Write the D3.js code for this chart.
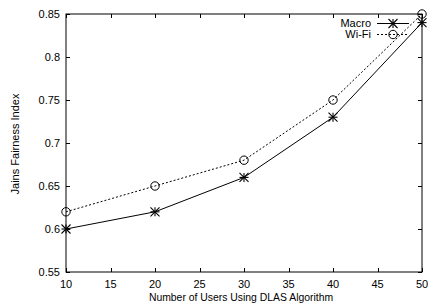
<!DOCTYPE html>
<html><head><meta charset="utf-8">
<script src="https://cdn.jsdelivr.net/npm/d3@7"></script>
<style>body{margin:0;background:#fff}svg{display:block}text{font-family:"Liberation Sans",Arial,sans-serif;fill:#000}</style>
</head><body><svg id="c" width="429" height="307"></svg>
<script>
const users = [10, 20, 30, 40, 50];
const macro = [0.60, 0.62, 0.66, 0.73, 0.84];
const wifi = [0.62, 0.65, 0.68, 0.75, 0.85];
const xTicks = [10, 15, 20, 25, 30, 35, 40, 45, 50];
const yTicks = [0.55, 0.6, 0.65, 0.7, 0.75, 0.8, 0.85];
const yTickLabels = ["0.55", "0.6", "0.65", "0.7", "0.75", "0.8", "0.85"];

const svg = d3.select("#c");
const L = 66, R = 422, T = 14, B = 272;
const x = d3.scaleLinear().domain([10, 50]).range([L, R]);
const y = d3.scaleLinear().domain([0.55, 0.85]).range([B, T]);
const fs = 11;

svg.append("rect").attr("x", L).attr("y", T).attr("width", R - L).attr("height", B - T)
  .attr("fill", "none").attr("stroke", "#000").attr("stroke-width", 1);

const tl = 4;
const g = svg.append("g").attr("stroke", "#000").attr("stroke-width", 1);
xTicks.forEach(t => {
  const px = Math.round(x(t)) + 0.5;
  g.append("line").attr("x1", px).attr("x2", px).attr("y1", B).attr("y2", B - tl);
  g.append("line").attr("x1", px).attr("x2", px).attr("y1", T).attr("y2", T + tl);
});
yTicks.forEach(t => {
  const py = Math.round(y(t)) + 0.5;
  g.append("line").attr("x1", L).attr("x2", L + tl).attr("y1", py).attr("y2", py);
  g.append("line").attr("x1", R).attr("x2", R - tl).attr("y1", py).attr("y2", py);
});
xTicks.forEach(t => {
  svg.append("text").attr("x", x(t)).attr("y", B + 16).attr("text-anchor", "middle")
    .attr("font-size", fs).text(t);
});
yTicks.forEach((t, i) => {
  svg.append("text").attr("x", L - 6).attr("y", y(t) + 4).attr("text-anchor", "end")
    .attr("font-size", fs).text(yTickLabels[i]);
});
svg.append("text").attr("x", 241).attr("y", 301).attr("text-anchor", "middle")
  .attr("font-size", 10.4).text("Number of Users Using DLAS Algorithm");
svg.append("text").attr("transform", `translate(19,144) rotate(-90)`)
  .attr("text-anchor", "middle").attr("font-size", 11).text("Jains Fairness Index");

const line = d3.line().x(d => x(d[0])).y(d => y(d[1]));
const mData = users.map((u, i) => [u, macro[i]]);
const wData = users.map((u, i) => [u, wifi[i]]);

svg.append("path").attr("d", line(wData)).attr("fill", "none").attr("stroke", "#000")
  .attr("stroke-width", 1).attr("stroke-dasharray", "2,2");
svg.append("path").attr("d", line(mData)).attr("fill", "none").attr("stroke", "#000")
  .attr("stroke-width", 1);

function star(px, py) {
  const s = 4.5;
  const gg = svg.append("g").attr("stroke", "#000").attr("stroke-width", 1.1);
  gg.append("line").attr("x1", px - s).attr("x2", px + s).attr("y1", py).attr("y2", py);
  gg.append("line").attr("x1", px).attr("x2", px).attr("y1", py - s).attr("y2", py + s);
  gg.append("line").attr("x1", px - s).attr("x2", px + s).attr("y1", py - s).attr("y2", py + s);
  gg.append("line").attr("x1", px - s).attr("x2", px + s).attr("y1", py + s).attr("y2", py - s);
}
function circ(px, py) {
  svg.append("circle").attr("cx", px).attr("cy", py).attr("r", 4.2)
    .attr("fill", "none").attr("stroke", "#000").attr("stroke-width", 1);
}
mData.forEach(d => star(x(d[0]), y(d[1])));
wData.forEach(d => circ(x(d[0]), y(d[1])));

const lx1 = 377, lx2 = 409, lxm = 393;
svg.append("text").attr("x", 371).attr("y", 27).attr("text-anchor", "end").attr("font-size", fs).text("Macro");
svg.append("line").attr("x1", lx1).attr("x2", lx2).attr("y1", 23.5).attr("y2", 23.5).attr("stroke", "#000");
star(lxm, 23.5);
svg.append("text").attr("x", 371).attr("y", 38).attr("text-anchor", "end").attr("font-size", fs).text("Wi-Fi");
svg.append("line").attr("x1", lx1).attr("x2", lx2).attr("y1", 34.5).attr("y2", 34.5).attr("stroke", "#000").attr("stroke-dasharray", "2,2");
circ(lxm, 34.5);
</script></body></html>
